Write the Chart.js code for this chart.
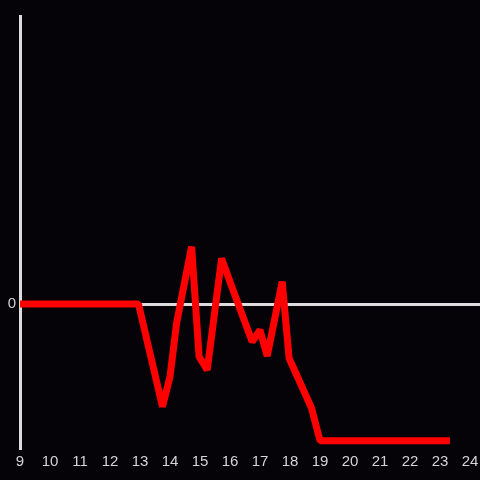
<!DOCTYPE html>
<html>
<head>
<meta charset="utf-8">
<script src="https://cdn.jsdelivr.net/npm/chart.js@4"></script>
<style>
  html, body { margin: 0; padding: 0; background: #050307; }
  canvas { display: block; }
</style>
</head>
<body>
<canvas id="chart" width="480" height="480"></canvas>
<script>
// values
const xValues = [9, 12.95, 13.75, 14.0, 14.22, 14.72, 14.97, 15.24, 15.72, 16.06, 16.74, 17.0, 17.24, 17.74, 17.97, 18.72, 19.0, 23.33]
const yValues = [0, 0, -0.713, -0.505, -0.132, 0.398, -0.366, -0.458, 0.317, 0.12, -0.262, -0.18, -0.361, 0.155, -0.377, -0.724, -0.949, -0.949]
const xTicks = [9, 10, 11, 12, 13, 14, 15, 16, 17, 18, 19, 20, 21, 22, 23, 24]
const yTicks = [0]

const axisColor = '#dcdcdc'
const labelColor = '#d4d4d4'
const font = { family: '"Liberation Sans", Arial, sans-serif', size: 15 }

const bgPlugin = {
  id: 'bg',
  beforeDraw (chart) {
    const ctx = chart.ctx
    ctx.save()
    ctx.fillStyle = '#050307'
    ctx.fillRect(0, 0, chart.width, chart.height)
    ctx.restore()
  }
}

new Chart(document.getElementById('chart'), {
  type: 'line',
  data: {
    datasets: [{
      data: xValues.map((x, i) => ({ x, y: yValues[i] })),
      borderColor: '#ff0000',
      borderWidth: 7,
      borderJoinStyle: 'bevel',
      pointRadius: 0,
      tension: 0,
      fill: false
    }]
  },
  options: {
    responsive: false,
    animation: false,
    layout: { padding: { top: 16, right: 0, left: 0, bottom: 0 } },
    plugins: { legend: { display: false }, tooltip: { enabled: false } },
    scales: {
      x: {
        type: 'linear',
        min: 9,
        max: 24.333,
        afterBuildTicks: s => { s.ticks = xTicks.map(v => ({ value: v })) },
        afterFit: s => { s.height = 32; s.paddingLeft = 0; s.paddingRight = 0 },
        grid: { display: false, drawTicks: false },
        border: { display: false },
        ticks: { color: labelColor, font, padding: 5, maxRotation: 0, autoSkip: false }
      },
      y: {
        min: -1,
        max: 2,
        afterBuildTicks: s => { s.ticks = yTicks.map(v => ({ value: v })) },
        afterFit: s => { s.width = 20; s.paddingTop = 0; s.paddingBottom = 0 },
        grid: { color: axisColor, lineWidth: 3, drawTicks: false },
        border: { display: true, color: axisColor, width: 3 },
        ticks: { color: labelColor, font, padding: 4 }
      }
    }
  },
  plugins: [bgPlugin]
})
</script>
</body>
</html>
